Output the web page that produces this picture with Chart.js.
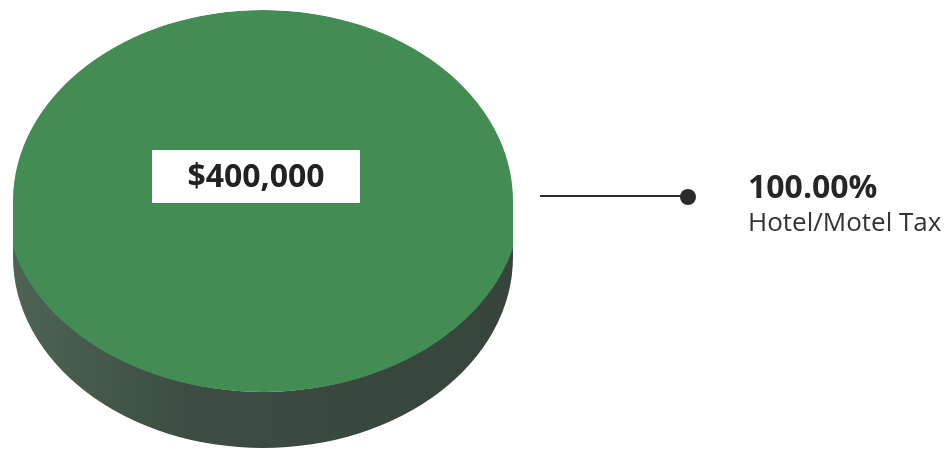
<!DOCTYPE html>
<html>
<head>
<meta charset="utf-8">
<script src="https://cdn.jsdelivr.net/npm/chart.js@4"></script>
<style>
  html, body { margin: 0; padding: 0; background: #fff; }
  #wrap { width: 951px; height: 454px; }
</style>
</head>
<body>
<div id="wrap"><canvas id="revenue-pie" width="951" height="454"></canvas></div>
<script>
// funding sources
const sources = ['Hotel/Motel Tax'];
const amounts = [400000];
const sliceColors = ['#438c53'];

const money = v => '$' + v.toLocaleString('en-US');

// 3D look: stretch the pie into an ellipse and put a dark wall under it
const pie3d = {
    id: 'pie3d',
    beforeDatasetsDraw(chart, args, opts) {
        const ctx = chart.ctx;
        const meta = chart.getDatasetMeta(0);
        const first = meta.data[0];
        const cx = first.x;
        ctx.save();
        ctx.translate(cx, 0);
        ctx.scale(opts.stretch, 1);
        ctx.translate(-cx, 0);

        const r = first.outerRadius;
        const cy = first.y;
        const d = opts.depth;

        // wall
        const grad = ctx.createLinearGradient(cx - r, 0, cx + r, 0);
        grad.addColorStop(0, '#4d6453');
        grad.addColorStop(0.35, '#3d4d43');
        grad.addColorStop(1, '#36443c');
        ctx.fillStyle = grad;
        ctx.beginPath();
        ctx.arc(cx, cy + d, r, 0, Math.PI);
        ctx.lineTo(cx - r, cy);
        ctx.arc(cx, cy, r, Math.PI, 0, true);
        ctx.closePath();
        ctx.fill();

        // keep the top face inside the outline, slightly wider so the
        // wall thins out towards the sides
        ctx.beginPath();
        ctx.arc(cx, cy, r, Math.PI, Math.PI * 2);
        ctx.lineTo(cx + r, cy + d);
        ctx.arc(cx, cy + d, r, 0, Math.PI);
        ctx.closePath();
        ctx.clip();
        ctx.translate(cx, 0);
        ctx.scale(opts.widen, 1);
        ctx.translate(-cx, 0);
    },
    afterDatasetsDraw(chart) {
        chart.ctx.restore();
    }
};

// value box on the pie and the callout on the right
const pieLabels = {
    id: 'pieLabels',
    afterDraw(chart) {
        const ctx = chart.ctx;
        const meta = chart.getDatasetMeta(0);
        const data = chart.data.datasets[0].data;
        const total = data.reduce((a, b) => a + b, 0);

        meta.data.forEach((arc, i) => {
            // white box with the amount
            const bx = arc.x - 7, by = arc.y - 24;
            ctx.save();
            ctx.fillStyle = '#fff';
            ctx.fillRect(bx - 104, by - 27, 208, 53);
            ctx.fillStyle = '#222';
            ctx.font = 'bold 32px "Open Sans"';
            ctx.textAlign = 'center';
            ctx.textBaseline = 'middle';
            ctx.fillText(money(data[i]), bx, by + 1);

            // leader line + dot
            const ly = arc.y - 5;
            const x0 = chart.chartArea.right + 27;
            const x1 = x0 + 148;
            ctx.strokeStyle = '#2b2b2b';
            ctx.lineWidth = 2;
            ctx.beginPath();
            ctx.moveTo(x0, ly);
            ctx.lineTo(x1, ly);
            ctx.stroke();
            ctx.fillStyle = '#2b2b2b';
            ctx.beginPath();
            ctx.arc(x1, ly + 1, 8, 0, Math.PI * 2);
            ctx.fill();

            // percentage and name
            const tx = x1 + 60;
            ctx.textAlign = 'left';
            ctx.textBaseline = 'alphabetic';
            ctx.fillStyle = '#262626';
            ctx.font = 'bold 32px "Open Sans"';
            ctx.fillText((data[i] / total * 100).toFixed(2) + '%', tx, ly + 2);
            ctx.fillStyle = '#333';
            ctx.font = '26px "Open Sans"';
            ctx.fillText(chart.data.labels[i], tx, ly + 35);
            ctx.restore();
        });
    }
};

new Chart(document.getElementById('revenue-pie'), {
    type: 'pie',
    data: {
        labels: sources,
        datasets: [{
            data: amounts,
            backgroundColor: sliceColors,
            borderWidth: 0,
            hoverOffset: 0,
            clip: false
        }]
    },
    options: {
        responsive: false,
        animation: false,
        layout: {
            padding: { left: 13, top: 10, right: 438, bottom: 62 }
        },
        plugins: {
            legend: { display: false },
            tooltip: { enabled: false },
            pie3d: { stretch: 250 / 191, widen: 258 / 250, depth: 56 }
        }
    },
    plugins: [pie3d, pieLabels]
});
</script>
</body>
</html>
